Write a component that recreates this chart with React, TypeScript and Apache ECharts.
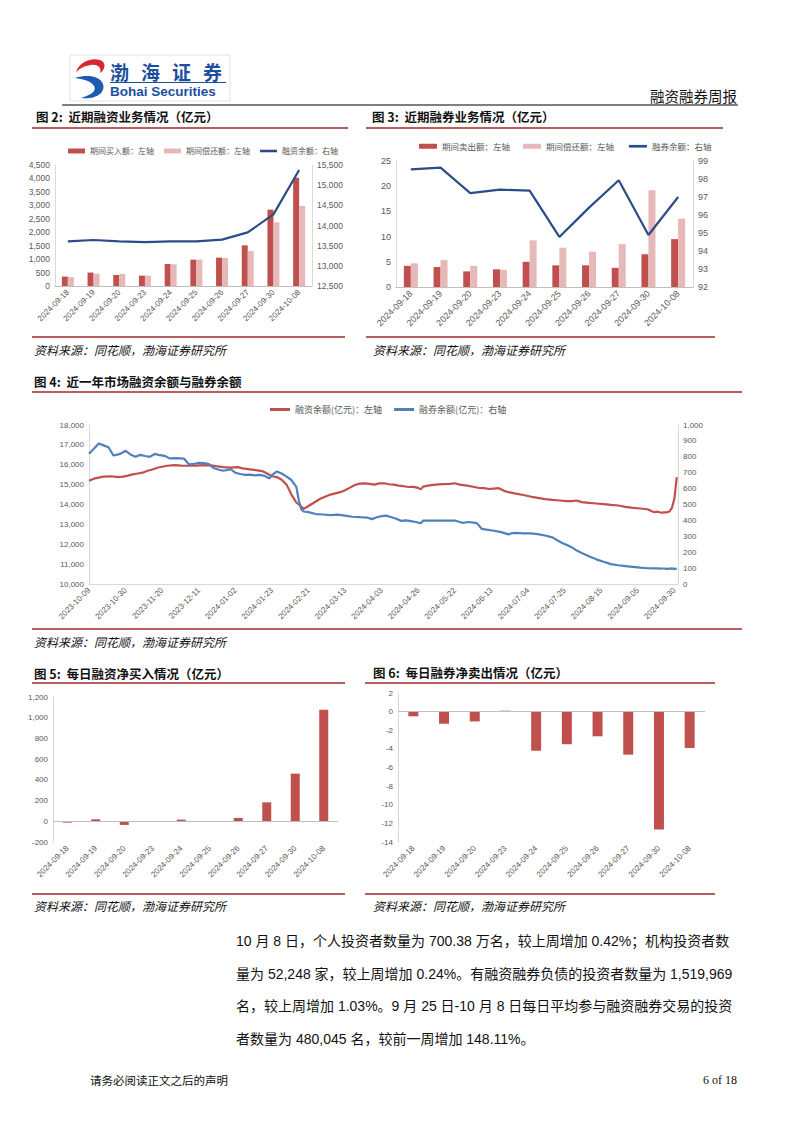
import React, { useEffect, useRef } from "react";
import * as echarts from "echarts";

// ---------- data ----------
const days10 = [
  "2024-09-18", "2024-09-19", "2024-09-20", "2024-09-23", "2024-09-24",
  "2024-09-25", "2024-09-26", "2024-09-27", "2024-09-30", "2024-10-08",
];
// Fig 2
const buyAmt = [350, 500, 410, 385, 820, 980, 1055, 1513, 2840, 4030];
const finRepay = [330, 460, 450, 385, 805, 980, 1040, 1300, 2370, 2976];
const finBalance = [13607, 13640, 13607, 13590, 13607, 13607, 13650, 13830, 14276, 15375];
// Fig 3
const sellAmt = [4.2, 3.97, 3.1, 3.5, 5.0, 4.3, 4.3, 3.8, 6.5, 9.5];
const secRepay = [4.7, 5.35, 4.2, 3.4, 9.25, 7.8, 7.0, 8.5, 19.2, 13.55];
const secBalance = [98.54, 98.63, 97.22, 97.41, 97.35, 94.78, 96.41, 97.93, 94.89, 97.0];
// Fig 5 / 6
const netBuy = [-13, 19, -35, -5, 16, -2, 32, 183, 460, 1078];
const netSell = [-0.5, -1.3, -1.05, 0.1, -4.2, -3.5, -2.65, -4.62, -12.67, -3.9];
// Fig 4 : [trading-day index, value]
const yearTicks = [
  "2023-10-09", "2023-10-30", "2023-11-20", "2023-12-11", "2024-01-02", "2024-01-23",
  "2024-02-21", "2024-03-13", "2024-04-03", "2024-04-26", "2024-05-22", "2024-06-13",
  "2024-07-04", "2024-07-25", "2024-08-15", "2024-09-05", "2024-09-30",
];
const yearFin = [
  [0, 15200], [2, 15300], [4, 15350], [6, 15400], [9, 15420], [12, 15380], [14, 15400],
  [16, 15450], [18, 15520], [20, 15560], [22, 15600], [24, 15700], [26, 15760], [28, 15850],
  [30, 15900], [32, 15950], [35, 15980], [38, 15960], [41, 15950], [44, 15960], [47, 15980],
  [50, 15970], [52, 15930], [55, 15880], [58, 15860], [61, 15880], [63, 15820], [66, 15770],
  [69, 15720], [71, 15680], [73, 15560], [75, 15420], [77, 15380], [79, 15250], [81, 15000],
  [83, 14500], [85, 14100], [87, 13900], [88, 13780], [89, 13850], [91, 14000], [93, 14150],
  [95, 14300], [97, 14400], [99, 14500], [101, 14560], [103, 14620], [105, 14720], [107, 14850],
  [109, 14980], [111, 15050], [113, 15060], [115, 15040], [117, 15000], [119, 15060], [121, 15070],
  [123, 15020], [125, 15000], [127, 14950], [129, 14920], [131, 14880], [133, 14890], [135, 14840],
  [136, 14760], [137, 14900], [139, 14950], [142, 15000], [145, 15030], [148, 15040], [150, 15070],
  [152, 15000], [155, 14950], [158, 14880], [160, 14830], [162, 14820], [164, 14780], [166, 14800],
  [168, 14820], [170, 14700], [172, 14620], [175, 14550], [178, 14480], [181, 14400], [184, 14330],
  [187, 14270], [190, 14230], [193, 14200], [196, 14170], [198, 14170], [200, 14200], [202, 14120],
  [205, 14080], [208, 14050], [211, 14020], [214, 13980], [217, 13950], [220, 13880], [223, 13830],
  [226, 13800], [229, 13760], [231, 13650], [232, 13607], [233, 13640], [234, 13607], [235, 13590],
  [236, 13607], [237, 13607], [238, 13650], [239, 13830], [240, 14276], [241, 15375],
];
const yearSec = [
  [0, 819], [2, 850], [4, 884], [6, 872], [8, 860], [10, 808], [12, 815], [13, 820], [15, 838],
  [17, 815], [19, 800], [21, 812], [23, 805], [25, 800], [27, 818], [29, 810], [31, 806], [33, 790],
  [36, 792], [39, 788], [41, 752], [43, 755], [45, 762], [47, 760], [49, 756], [51, 730], [53, 720],
  [55, 712], [57, 718], [58, 722], [60, 700], [62, 692], [64, 686], [66, 688], [68, 683], [70, 686],
  [72, 680], [74, 664], [75, 685], [77, 708], [79, 695], [81, 675], [83, 654], [85, 611], [86, 528],
  [87, 470], [88, 456], [90, 452], [93, 440], [96, 437], [99, 433], [102, 436], [105, 430], [108, 423],
  [111, 420], [114, 418], [116, 408], [118, 420], [120, 427], [122, 430], [124, 420], [126, 410],
  [128, 397], [130, 400], [132, 395], [134, 390], [136, 382], [137, 398], [140, 398], [145, 399],
  [150, 399], [153, 385], [156, 390], [159, 383], [161, 347], [163, 342], [166, 335], [169, 326],
  [172, 312], [173, 318], [175, 322], [178, 318], [181, 318], [184, 314], [187, 305], [190, 293],
  [192, 275], [194, 258], [196, 245], [198, 230], [200, 210], [202, 195], [205, 175], [208, 155],
  [211, 140], [214, 125], [217, 118], [220, 113], [223, 108], [226, 103], [229, 99], [232, 98.54],
  [233, 98.63], [234, 97.22], [235, 97.41], [236, 97.35], [237, 94.78], [238, 96.41], [239, 97.93],
  [240, 94.89], [241, 97.0],
];
const bodyLines = [
  "10 月 8 日，个人投资者数量为 700.38 万名，较上周增加 0.42%；机构投资者数",
  "量为 52,248 家，较上周增加 0.24%。有融资融券负债的投资者数量为 1,519,969",
  "名，较上周增加 1.03%。9 月 25 日-10 月 8 日每日平均参与融资融券交易的投资",
  "者数量为 480,045 名，较前一周增加 148.11%。",
];
const sourceText = "资料来源：同花顺，渤海证券研究所";

// ---------- styles ----------
const CJK = "'Noto Sans CJK SC', 'Noto Sans', sans-serif";
const NUM = "'Liberation Sans', 'Noto Sans CJK SC', sans-serif";
const RED = "#C0504D";
const PINK = "#E6B9B8";
const NAVY = "#2B4C86";
const BLUE = "#4F81BD";
const LINE_RED = "#A0282B";
const LABEL = "#595959";

echarts.graphic.registerShape(
  "logoRed",
  echarts.graphic.extendPath(
    "M3,15 C6,5 18,0 27,3 C33,5 33,12 27,16 C29,11 25,7 18,8 C11,9 6,12 3,15 Z",
    {}
  )
);
echarts.graphic.registerShape(
  "logoBlue",
  echarts.graphic.extendPath(
    "M2,21 C14,17 27,19 30,27 C33,36 22,43 8,41 C18,38 24,34 21,29 C18,24 10,22 2,21 Z",
    {}
  )
);

const fmt = (v: number) => v.toLocaleString("en-US");

function catX(grid: number, data: string[], fontSize: number, showLine = true) {
  return {
    type: "category",
    gridIndex: grid,
    data,
    axisTick: { show: false },
    axisLine: { show: showLine, onZero: false, lineStyle: { color: "#BFBFBF" } },
    axisLabel: { interval: 0, rotate: 45, fontSize, color: LABEL, fontFamily: NUM, margin: 5 },
  };
}
function valY(grid: number, min: number, max: number, interval: number, fontSize: number, position = "left") {
  return {
    type: "value",
    gridIndex: grid,
    min,
    max,
    interval,
    position,
    splitLine: { show: false },
    axisTick: { show: false },
    axisLine: { show: true, lineStyle: { color: "#D9D9D9" } },
    axisLabel: { fontSize, color: LABEL, fontFamily: NUM, margin: 5, formatter: fmt },
  };
}
function txt(x: number, y: number, text: string, fontSize: number, extra: any = {}) {
  return {
    type: "text",
    x,
    y,
    silent: true,
    style: {
      text,
      fontSize,
      fontFamily: extra.fontFamily || CJK,
      fontWeight: extra.fontWeight || "normal",
      fontStyle: extra.fontStyle || "normal",
      fill: extra.fill || "#111",
      align: extra.align || "left",
      verticalAlign: "middle",
    },
  };
}
function hline(x1: number, x2: number, y: number, stroke: string, lineWidth: number) {
  return { type: "line", silent: true, shape: { x1, y1: y, x2, y2: y }, style: { stroke, lineWidth } };
}
const lineIcon = "path://M0,0H20V3H0Z";
const zeroLine = {
  silent: true,
  symbol: "none",
  label: { show: false },
  lineStyle: { color: "#BFBFBF", width: 1, type: "solid" },
  data: [{ yAxis: 0 }],
};

export default function App() {
  const ref = useRef<HTMLDivElement>(null);
  useEffect(() => {
    if (!ref.current) return;
    const chart = echarts.init(ref.current, undefined, { renderer: "svg" });
    const option: any = {
      animation: false,
      backgroundColor: "#fff",
      grid: [
        { left: 55, top: 165, width: 257, height: 121 },
        { left: 396, top: 161, width: 297, height: 126 },
        { left: 89, top: 425, width: 589, height: 159 },
        { left: 53, top: 697, width: 285, height: 145 },
        { left: 398, top: 693, width: 307, height: 149 },
      ],
      xAxis: [
        catX(0, days10, 8),
        catX(1, days10, 9),
        {
          type: "value",
          gridIndex: 2,
          min: 0,
          max: 241.5,
          interval: 15,
          splitLine: { show: false },
          axisTick: { show: false },
          axisLine: { show: true, onZero: false, lineStyle: { color: "#D9D9D9" } },
          axisLabel: {
            rotate: 45,
            fontSize: 8,
            color: LABEL,
            fontFamily: NUM,
            margin: 5,
            showMaxLabel: false,
            formatter: (v: number) => (v % 15 === 0 ? yearTicks[Math.round(v / 15)] || "" : ""),
          },
        },
        catX(3, days10, 8, false),
        catX(4, days10, 8, false),
      ],
      yAxis: [
        valY(0, 0, 4500, 500, 8.5),
        valY(0, 12500, 15500, 500, 8.5, "right"),
        valY(1, 0, 25, 5, 9),
        valY(1, 92, 99, 1, 9, "right"),
        valY(2, 10000, 18000, 1000, 8),
        valY(2, 0, 1000, 100, 8, "right"),
        valY(3, -200, 1200, 200, 8),
        valY(4, -14, 2, 2, 8),
      ],
      legend: [
        {
          left: 63,
          top: 142,
          itemWidth: 17,
          itemHeight: 5,
          itemGap: 10,
          textStyle: { fontSize: 8, color: LABEL, fontFamily: CJK },
          data: [
            { name: "期间买入额：左轴", icon: "rect" },
            { name: "期间偿还额：左轴", icon: "rect" },
            { name: "融资余额：右轴", icon: lineIcon },
          ],
        },
        {
          left: 414,
          top: 137,
          itemWidth: 18,
          itemHeight: 5,
          itemGap: 13,
          textStyle: { fontSize: 8.5, color: LABEL, fontFamily: CJK },
          data: [
            { name: "期间卖出额：左轴", icon: "rect" },
            { name: "期间偿还额：左轴 ", icon: "rect" },
            { name: "融券余额：右轴", icon: lineIcon },
          ],
        },
        {
          left: 265,
          top: 400,
          itemWidth: 20,
          itemHeight: 5,
          itemGap: 12,
          textStyle: { fontSize: 9, color: LABEL, fontFamily: CJK },
          data: [
            { name: "融资余额(亿元)：左轴", icon: lineIcon },
            { name: "融券余额(亿元)：右轴", icon: lineIcon },
          ],
        },
      ],
      series: [
        { name: "期间买入额：左轴", type: "bar", xAxisIndex: 0, yAxisIndex: 0, data: buyAmt, barWidth: 6, barGap: "0%", itemStyle: { color: RED } },
        { name: "期间偿还额：左轴", type: "bar", xAxisIndex: 0, yAxisIndex: 0, data: finRepay, barWidth: 6, barGap: "0%", itemStyle: { color: PINK } },
        { name: "融资余额：右轴", type: "line", xAxisIndex: 0, yAxisIndex: 1, data: finBalance, symbol: "none", lineStyle: { color: NAVY, width: 2.2 }, itemStyle: { color: NAVY } },
        { name: "期间卖出额：左轴", type: "bar", xAxisIndex: 1, yAxisIndex: 2, data: sellAmt, barWidth: 7, barGap: "0%", itemStyle: { color: RED } },
        { name: "期间偿还额：左轴 ", type: "bar", xAxisIndex: 1, yAxisIndex: 2, data: secRepay, barWidth: 7, barGap: "0%", itemStyle: { color: PINK } },
        { name: "融券余额：右轴", type: "line", xAxisIndex: 1, yAxisIndex: 3, data: secBalance, symbol: "none", lineStyle: { color: NAVY, width: 2.2 }, itemStyle: { color: NAVY } },
        { name: "融资余额(亿元)：左轴", type: "line", xAxisIndex: 2, yAxisIndex: 4, data: yearFin, symbol: "none", lineStyle: { color: RED, width: 2.2 }, itemStyle: { color: RED } },
        { name: "融券余额(亿元)：右轴", type: "line", xAxisIndex: 2, yAxisIndex: 5, data: yearSec, symbol: "none", lineStyle: { color: BLUE, width: 2.2 }, itemStyle: { color: BLUE } },
        { name: "每日融资净买入", type: "bar", xAxisIndex: 3, yAxisIndex: 6, data: netBuy, barWidth: 9, itemStyle: { color: RED }, markLine: zeroLine },
        { name: "每日融券净卖出", type: "bar", xAxisIndex: 4, yAxisIndex: 7, data: netSell, barWidth: 10, itemStyle: { color: RED }, markLine: zeroLine },
      ],
      graphic: [
        // logo
        { type: "rect", silent: true, shape: { x: 70, y: 55, width: 160, height: 46 }, style: { fill: "#fff", stroke: "#E3E3E3", lineWidth: 1 } },
        { type: "logoRed", silent: true, x: 73, y: 57, style: { fill: "#D7282F" } },
        { type: "logoBlue", silent: true, x: 73, y: 57, style: { fill: "#1E5BB0" } },
        txt(110, 71, "渤", 19, { fontWeight: "bold", fill: "#1E4F9E" }),
        txt(141, 71, "海", 19, { fontWeight: "bold", fill: "#1E4F9E" }),
        txt(172, 71, "证", 19, { fontWeight: "bold", fill: "#1E4F9E" }),
        txt(203, 71, "券", 19, { fontWeight: "bold", fill: "#1E4F9E" }),
        hline(110, 226, 82.5, "#1E4F9E", 1.2),
        txt(110, 91.5, "Bohai Securities", 13.5, { fontWeight: "bold", fill: "#1E4F9E", fontFamily: NUM }),
        txt(737, 95, "融资融券周报", 14.5, { align: "right", fill: "#111" }),
        hline(62, 738, 105, "#000", 1.2),
        // titles
        txt(36, 116, "图 2:  近期融资业务情况（亿元）", 12.5, { fontWeight: "bold" }),
        hline(32, 348, 128, LINE_RED, 1.5),
        txt(372, 116, "图 3:  近期融券业务情况（亿元）", 12.5, { fontWeight: "bold" }),
        hline(366, 723, 128, LINE_RED, 1.5),
        hline(32, 345, 337, LINE_RED, 1.5),
        txt(34, 349, sourceText, 12, { fontStyle: "italic" }),
        hline(366, 715, 337, LINE_RED, 1.5),
        txt(373, 349, sourceText, 12, { fontStyle: "italic" }),
        txt(34, 381, "图 4:  近一年市场融资余额与融券余额", 12.5, { fontWeight: "bold" }),
        hline(32, 742, 392, LINE_RED, 1.5),
        hline(32, 742, 629, LINE_RED, 1.5),
        txt(34, 641, sourceText, 12, { fontStyle: "italic" }),
        txt(34, 673, "图 5:  每日融资净买入情况（亿元）", 12.5, { fontWeight: "bold" }),
        hline(32, 345, 683, LINE_RED, 1.5),
        txt(373, 672, "图 6:  每日融券净卖出情况（亿元）", 12.5, { fontWeight: "bold" }),
        hline(365, 715, 683, LINE_RED, 1.5),
        hline(32, 345, 894, LINE_RED, 1.5),
        txt(34, 905, sourceText, 12, { fontStyle: "italic" }),
        hline(365, 715, 894, LINE_RED, 1.5),
        txt(373, 905, sourceText, 12, { fontStyle: "italic" }),
        // body
        ...bodyLines.map((l, i) => txt(236, 941 + i * 32.7, l, 14, { fontFamily: NUM })),
        txt(90, 1080, "请务必阅读正文之后的声明", 11.5),
        txt(737, 1080, "6 of 18", 12, { align: "right", fontFamily: "'Liberation Serif', serif" }),
      ],
    };
    chart.setOption(option);
    return () => chart.dispose();
  }, []);
  return (
    <div
      ref={ref}
      style={{ position: "absolute", left: 0, top: 0, width: 802, height: 1133, background: "#fff" }}
    />
  );
}
